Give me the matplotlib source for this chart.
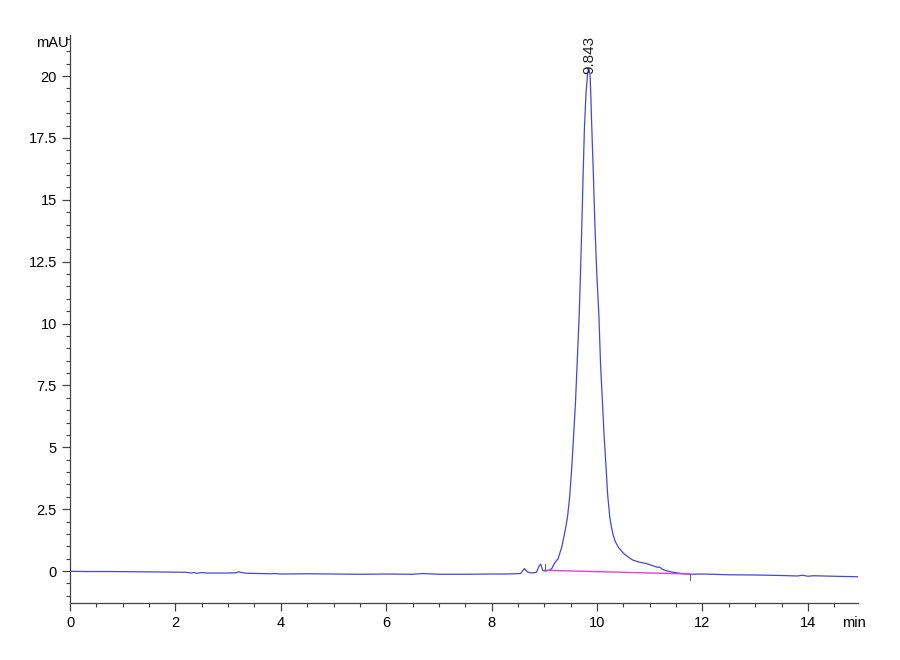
import numpy as np
import matplotlib
matplotlib.use("Agg")
import matplotlib.pyplot as plt
from matplotlib.ticker import MultipleLocator

plt.rcParams['font.family'] = ['Liberation Sans', 'DejaVu Sans']

# chromatogram trace (min, mAU)
time = [0.0, 0.3, 0.8, 1.3, 1.8, 2.2, 2.3, 2.35, 2.4, 2.5, 2.6, 3.0, 3.15, 3.2,
        3.25, 3.35, 3.6, 3.8, 3.9, 4.0, 4.5, 5.0, 5.5, 6.0, 6.5, 6.7, 7.0, 7.5,
        8.0, 8.3, 8.55, 8.62, 8.68, 8.75, 8.85, 8.9, 8.93, 8.97, 9.02, 9.1,
        9.14, 9.2, 9.26, 9.33, 9.4, 9.44, 9.48, 9.52, 9.55, 9.59, 9.62, 9.66,
        9.685, 9.71, 9.735, 9.76, 9.79, 9.82, 9.843, 9.865, 9.88, 9.9, 9.93,
        9.96, 9.995, 10.035, 10.065, 10.1, 10.135, 10.17, 10.2, 10.24, 10.27,
        10.3, 10.34, 10.4, 10.5, 10.6, 10.68, 10.8, 10.94, 11.05, 11.15,
        11.19, 11.23, 11.3, 11.44, 11.6, 11.76, 12.0, 12.5, 13.0, 13.5, 13.8,
        13.9, 14.0, 14.1, 14.3, 14.5, 14.7, 14.95]
signal = [-0.01, -0.02, -0.02, -0.03, -0.04, -0.05, -0.08, -0.06, -0.09, -0.06,
          -0.08, -0.08, -0.07, -0.03, -0.06, -0.09, -0.1, -0.11, -0.1, -0.12,
          -0.11, -0.12, -0.13, -0.12, -0.13, -0.1, -0.13, -0.13, -0.12, -0.12,
          -0.1, 0.1, -0.04, -0.08, -0.05, 0.2, 0.28, 0.02, 0.0, 0.04, 0.1,
          0.34, 0.5, 0.97, 1.7, 2.2, 3.0, 4.2, 5.3, 6.8, 8.3, 10.3, 12.0, 13.9,
          16.0, 17.9, 19.3, 20.1, 20.3, 20.1, 19.3, 17.9, 16.0, 13.9, 12.0,
          10.3, 8.4, 6.9, 5.4, 4.2, 3.1, 2.2, 1.8, 1.5, 1.22, 0.97, 0.72, 0.55,
          0.44, 0.36, 0.3, 0.22, 0.15, 0.16, 0.08, 0.02, -0.05, -0.1, -0.13,
          -0.12, -0.15, -0.16, -0.18, -0.2, -0.17, -0.21, -0.19, -0.2, -0.21,
          -0.22, -0.23]

# integration baseline and peak label
base_t = [9.01, 11.76]
base_y = [0.03, -0.12]
peak_rt = 9.843
peak_h = 20.3

fig = plt.figure(figsize=(9, 6.6), dpi=100)
ax = fig.add_axes([0.0778, 0.0864, 0.8755, 0.8606])

ax.plot(time, signal, color='#4646d8', lw=0.9)
ax.plot(base_t, base_y, color='#e040e0', lw=1.0)
ax.plot([base_t[0], base_t[0]], [base_y[0], base_y[0] + 0.25], color='#666666', lw=0.8)
ax.plot([base_t[1], base_t[1]], [base_y[1], base_y[1] - 0.25], color='#666666', lw=0.8)

ax.text(peak_rt, peak_h - 0.2, "9.843", rotation=90, ha='center', va='bottom',
        fontsize=11, color='#222222')

ax.set_xlim(0, 14.95)
ax.set_ylim(-1.29, 21.66)
ax.xaxis.set_major_locator(MultipleLocator(2))
ax.xaxis.set_minor_locator(MultipleLocator(0.5))
ax.yaxis.set_major_locator(MultipleLocator(2.5))
ax.yaxis.set_minor_locator(MultipleLocator(0.5))
ax.yaxis.set_major_formatter(plt.FuncFormatter(lambda v, p: f"{v:g}"))

for s in ['top', 'right']:
    ax.spines[s].set_visible(False)
for s in ['left', 'bottom']:
    ax.spines[s].set_color('#444444')
    ax.spines[s].set_linewidth(0.9)
ax.tick_params(which='major', length=6, width=0.9, color='#444444', labelsize=10.5)
ax.tick_params(which='minor', length=3, width=0.8, color='#444444')

ax.text(-0.02, 21.33, "mAU", ha='right', va='center', fontsize=10.5)
ax.text(14.65, -2.1, "min", ha='left', va='center', fontsize=10.5, clip_on=False)

fig.savefig("out.png", dpi=100)
